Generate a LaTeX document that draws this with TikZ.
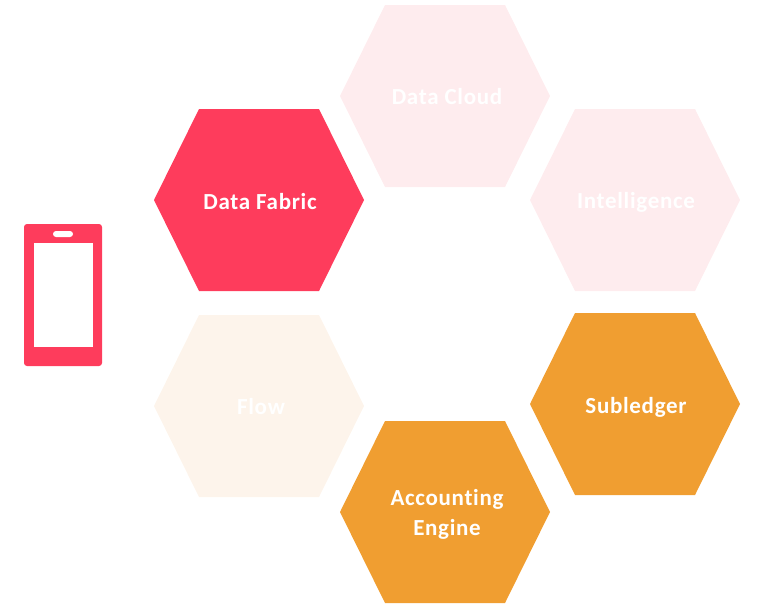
\documentclass[tikz,border=0pt]{standalone}
\usepackage{fontspec}
\setmainfont{Carlito}[LetterSpace=3,Ligatures=NoCommon]
\definecolor{hexred}{HTML}{FE3C5C}
\definecolor{hexorange}{HTML}{F09E31}
\definecolor{hexpink}{HTML}{FEECEE}
\definecolor{hexcream}{HTML}{FDF4EB}
\tikzset{
  hexlabel/.style={text=white,font=\fontsize{23}{30}\selectfont\bfseries,align=center,inner sep=0pt},
  pics/hexagon/.style={code={
    \fill[#1] (-105,0) -- (-60,-91) -- (60,-91) -- (105,0) -- (60,91) -- (-60,91) -- cycle;
  }}
}
\begin{document}
\begin{tikzpicture}[x=1pt,y=-1pt]
\useasboundingbox (0,0) rectangle (757,603);
\pic at (445,96) {hexagon=hexpink};
\pic at (635,200) {hexagon=hexpink};
\pic at (259,200) {hexagon=hexred};
\pic at (259,406) {hexagon=hexcream};
\pic at (635,404) {hexagon=hexorange};
\pic at (445,512) {hexagon=hexorange};
\node[hexlabel] (cloud) at (447,97) {Data Cloud};
\node[hexlabel] (intel) at (636,202) {Intelligence};
\node[hexlabel] (fabric) at (260,202) {Data Fabric};
\node[hexlabel] (flow) at (261,407) {Flow};
\node[hexlabel] (subledger) at (636,407) {Subledger};
\node[hexlabel] (engine) at (447,514) {Accounting\\Engine};
% phone
\fill[hexred,rounded corners=3pt] (24,224) rectangle (102,366);
\fill[white] (33.5,243) rectangle (92.5,346.5);
\fill[white,rounded corners=3pt] (53,231) rectangle (73,237);
\end{tikzpicture}
\end{document}
